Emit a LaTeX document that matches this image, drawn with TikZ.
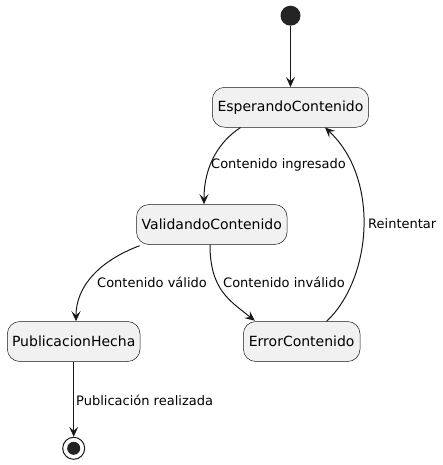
\documentclass[tikz,border=0pt]{standalone}
\usepackage{fontspec}
\setmainfont{DejaVu Sans}
\usetikzlibrary{arrows.meta,calc}
\definecolor{lc}{HTML}{181818}
\definecolor{sf}{HTML}{F1F1F1}
\begin{document}
\begin{tikzpicture}[x=1pt,y=-1pt,
  statebox/.style={draw=lc,line width=0.5pt,fill=sf,rounded corners=12.5pt,minimum height=40pt,inner sep=0pt,font=\fontsize{14}{16}\selectfont},
  conn/.style={draw=lc,line width=1pt,-{Stealth[length=10pt,width=9pt,inset=4pt]}},
  lbl/.style={anchor=west,inner sep=0pt,font=\fontsize{13}{15}\selectfont}]
\useasboundingbox (0,0) rectangle (443,465);
\node[circle,fill=lc!95!white,minimum size=20pt,inner sep=0pt] (start) at (290.5,15.7) {};
\node[statebox,minimum width=156.4pt] (esp) at (290.5,107.3) {EsperandoContenido};
\node[statebox,minimum width=150.6pt] (val) at (211.8,224.5) {ValidandoContenido};
\node[statebox,minimum width=132.7pt] (pub) at (73.7,341.5) {PublicacionHecha};
\node[statebox,minimum width=116.7pt] (err) at (301.7,341.5) {ErrorContenido};
\node[circle,draw=lc,line width=1pt,fill=white,minimum size=22pt,inner sep=0pt] (fin) at (73.7,448.3) {};
\node[circle,fill=lc!95!white,minimum size=13pt,inner sep=0pt] (finin) at (fin.center) {};

\draw[conn] (start) -- (esp.north);
\draw[conn] ([xshift=-50pt]esp.south) .. controls +(-20,13) and +(0,-40) .. ([xshift=-7.8pt]val.north);
\draw[conn] ([xshift=3.3pt,yshift=-1pt]val.south west) .. controls +(-40,15) and +(0,-35) .. ([xshift=2.3pt]pub.north);
\draw[conn] ([xshift=-1.8pt]val.south) .. controls +(0,45) and +(-25,-20) .. ([xshift=11.7pt,yshift=0.5pt]err.north west);
\draw[conn] ([xshift=25pt]err.north) .. controls +(45.3,-43) and +(55,51) .. ([xshift=34.5pt]esp.south);
\draw[conn] (pub.south) -- (fin.north);

\node[lbl] (l1) at (211,165) {Contenido ingresado};
\node[lbl] (l2) at (97,282) {Contenido válido};
\node[lbl] (l3) at (223,282) {Contenido inválido};
\node[lbl] (l4) at (368,224) {Reintentar};
\node[lbl] (l5) at (76,400) {Publicación realizada};
\end{tikzpicture}
\end{document}
